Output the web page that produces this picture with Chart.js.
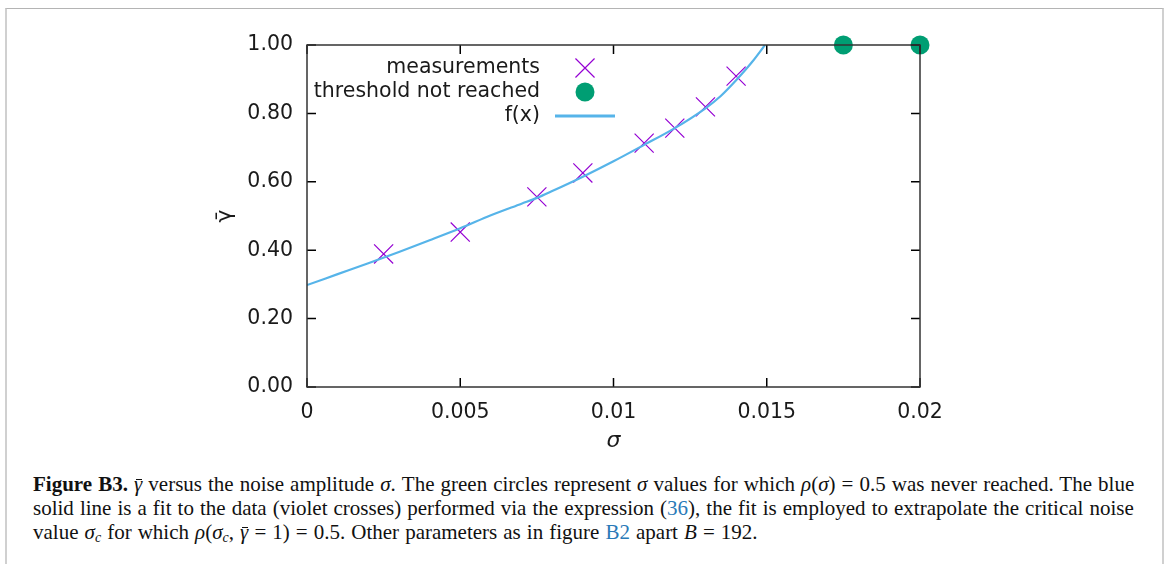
<!DOCTYPE html>
<html>
<head>
<meta charset="utf-8">
<script src="https://cdn.jsdelivr.net/npm/chart.js@4.4.0/dist/chart.umd.min.js"></script>
<style>
  html, body { margin: 0; padding: 0; background: #fff; }
  body { width: 1166px; height: 564px; position: relative; overflow: hidden; }
  #frame {
    position: absolute; left: 5px; top: 8px; width: 1155px; height: 600px;
    border-top: 1px solid #b4b4b4; border-left: 2px solid #d0d0d0; border-right: 2px solid #d0d0d0;
  }
  #plot { position: absolute; left: 0; top: 0; width: 1166px; height: 460px; }
  #caption {
    position: absolute; left: 33px; top: 472px;
    font-family: "Liberation Serif", "Times New Roman", serif;
    font-size: 21px; line-height: 24px; word-spacing: 0.8px; color: #111; white-space: nowrap;
  }
  #caption i { font-style: italic; }
  #caption .lnk { color: #2a7ab8; }
  #caption sub { font-size: 14px; vertical-align: -3px; line-height: 0; }
  #caption .bar { position: relative; }
  #caption .bar::after {
    content: ''; position: absolute; left: 2px; right: 0; top: 0.32em;
    border-top: 1px solid #111;
  }
</style>
</head>
<body>
<div id="frame"></div>
<div id="plot"><canvas id="chart"></canvas></div>
<div id="caption">
  <b>Figure B3.</b> <i class="bar">γ</i> versus the noise amplitude <i>σ</i>. The green circles represent <i>σ</i> values for which <i>ρ</i>(<i>σ</i>) = 0.5 was never reached. The blue<br>
  solid line is a fit to the data (violet crosses) performed via the expression (<span class="lnk">36</span>), the fit is employed to extrapolate the critical noise<br>
  value <i>σ<sub>c</sub></i> for which <i>ρ</i>(<i>σ<sub>c</sub></i>, <i class="bar">γ</i> = 1) = 0.5. Other parameters as in figure <span class="lnk">B2</span> apart <i>B</i> = 192.
</div>
<script>
// mesures (croix violettes)
const measSigma = [0.0025, 0.005, 0.0075, 0.009, 0.011, 0.012, 0.013, 0.014];
const measGamma = [0.389, 0.453, 0.556, 0.626, 0.713, 0.757, 0.819, 0.909];

// seuil jamais atteint (cercles verts)
const threshSigma = [0.0175, 0.02];
const threshGamma = [1.0, 1.0];

// courbe d'ajustement f(x)
const fitSigma = [0, 0.001, 0.002, 0.003, 0.004, 0.005, 0.006, 0.007, 0.0075, 0.008, 0.009, 0.010, 0.011, 0.012, 0.013, 0.0135, 0.014, 0.0145, 0.0149, 0.01494];
const fitGamma = [0.298, 0.330, 0.362, 0.395, 0.429, 0.464, 0.502, 0.536, 0.553, 0.573, 0.615, 0.660, 0.708, 0.757, 0.815, 0.851, 0.897, 0.948, 0.995, 1.0];

const xTickLabels = ['0', '0.005', '0.01', '0.015', '0.02'];

const FONT = '"DejaVu Sans", Verdana, sans-serif';
const FS = 20.5;
const toXY = (xs, ys) => xs.map((x, i) => ({ x: x, y: ys[i] }));

// cadre + graduations vers l'intérieur (style gnuplot)
const boxPlugin = {
    id: 'box',
    afterDatasetsDraw(chart) {
        const { ctx, chartArea: a, scales } = chart;
        ctx.save();
        ctx.strokeStyle = '#000';
        ctx.lineWidth = 1.5;
        const len = 9;
        scales.x.ticks.forEach(t => {
            const px = scales.x.getPixelForValue(t.value);
            ctx.beginPath();
            ctx.moveTo(px, a.bottom); ctx.lineTo(px, a.bottom - len);
            ctx.moveTo(px, a.top); ctx.lineTo(px, a.top + len);
            ctx.stroke();
        });
        scales.y.ticks.forEach(t => {
            const py = scales.y.getPixelForValue(t.value);
            ctx.beginPath();
            ctx.moveTo(a.left, py); ctx.lineTo(a.left + len, py);
            ctx.moveTo(a.right, py); ctx.lineTo(a.right - len, py);
            ctx.stroke();
        });
        ctx.strokeStyle = '#333';
        ctx.strokeRect(a.left, a.top, a.right - a.left, a.bottom - a.top);
        ctx.restore();
    }
};

// légende alignée à droite, symboles à droite du texte
const keyPlugin = {
    id: 'key',
    afterDraw(chart) {
        const { ctx, chartArea: a } = chart;
        const textRight = a.left + 233;
        const symX = a.left + 278;
        ctx.save();
        ctx.font = FS + 'px ' + FONT;
        ctx.textAlign = 'right';
        ctx.textBaseline = 'middle';
        chart.data.datasets.forEach((ds, i) => {
            const y = a.top + 23 + i * 24;
            ctx.fillStyle = '#1a1a1a';
            ctx.fillText(ds.label, textRight, y);
            if (ds.showLine) {
                ctx.strokeStyle = ds.borderColor;
                ctx.lineWidth = 3;
                ctx.beginPath();
                ctx.moveTo(symX - 30, y); ctx.lineTo(symX + 30, y);
                ctx.stroke();
            } else {
                ctx.strokeStyle = ds.borderColor;
                ctx.fillStyle = ds.backgroundColor;
                ctx.lineWidth = ds.borderWidth || 0.01;
                Chart.helpers.drawPoint(ctx, {
                    pointStyle: ds.pointStyle, radius: ds.pointRadius,
                    rotation: 0, borderWidth: ds.borderWidth
                }, symX, y);
            }
        });
        ctx.restore();
    }
};

new Chart(document.getElementById('chart'), {
    type: 'scatter',
    data: {
        datasets: [
            {
                label: 'measurements',
                data: toXY(measSigma, measGamma),
                pointStyle: 'crossRot',
                pointRadius: 13.5,
                borderColor: '#9400d3',
                backgroundColor: '#9400d3',
                borderWidth: 1.2,
                showLine: false,
                clip: false,
                order: 2
            },
            {
                label: 'threshold not reached',
                data: toXY(threshSigma, threshGamma),
                pointStyle: 'circle',
                pointRadius: 9.5,
                borderColor: '#009e73',
                backgroundColor: '#009e73',
                borderWidth: 0,
                showLine: false,
                clip: false,
                order: 1
            },
            {
                label: 'f(x)',
                data: toXY(fitSigma, fitGamma),
                showLine: true,
                pointRadius: 0,
                borderColor: '#56b4e9',
                backgroundColor: '#56b4e9',
                borderWidth: 2.2,
                cubicInterpolationMode: 'monotone',
                order: 0
            }
        ]
    },
    options: {
        responsive: true,
        maintainAspectRatio: false,
        animation: false,
        events: [],
        layout: { padding: { top: 45, right: 246, left: 0, bottom: 0 } },
        scales: {
            x: {
                type: 'linear', min: 0, max: 0.02,
                grid: { display: false, drawTicks: false },
                border: { display: false },
                afterFit: s => { s.height = 73; },
                ticks: {
                    stepSize: 0.005, padding: 13, color: '#1a1a1a',
                    font: { family: FONT, size: FS },
                    maxRotation: 0,
                    callback: (v, i) => xTickLabels[i]
                },
                title: {
                    display: true, text: 'σ', color: '#1a1a1a',
                    font: { family: FONT, size: 22, style: 'italic' },
                    padding: { top: 0, bottom: 6 }
                }
            },
            y: {
                type: 'linear', min: 0, max: 1,
                grid: { display: false, drawTicks: false },
                border: { display: false },
                afterFit: s => { s.width = 307; },
                ticks: {
                    stepSize: 0.2, padding: 14, color: '#1a1a1a',
                    font: { family: FONT, size: FS },
                    callback: v => v.toFixed(2)
                },
                title: {
                    display: true, text: 'γ̄', color: '#1a1a1a',
                    font: { family: FONT, size: 22 },
                    padding: { top: 212, bottom: 0 }
                }
            }
        },
        plugins: {
            legend: { display: false },
            tooltip: { enabled: false }
        }
    },
    plugins: [boxPlugin, keyPlugin]
});
</script>
</body>
</html>
